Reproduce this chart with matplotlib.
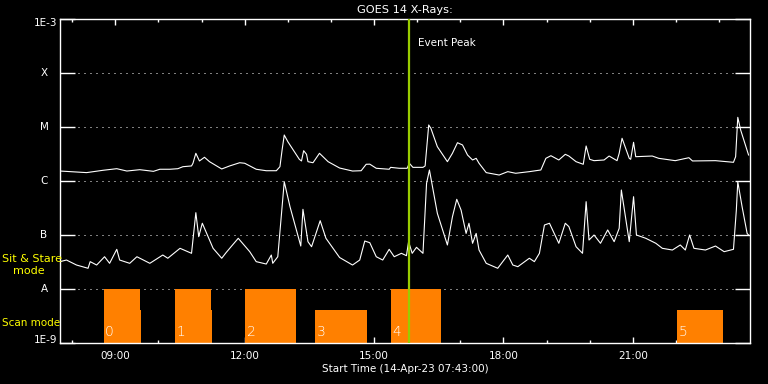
import matplotlib

matplotlib.use("Agg")
import matplotlib.dates as mdates
import matplotlib.pyplot as plt
import numpy as np
import pandas as pd
from matplotlib.ticker import NullLocator

# ---------------- DATA ----------------
DAY = "2023-04-14"
START = "07:43"
END = "23:43"
EVENT_PEAK = "15:48"

# 1-8 A channel, flux in 1e-6 W/m^2
LONG_TIMES = [
    "07:43", "08:20", "08:43", "09:02", "09:16", "09:34", "09:53", "10:02", "10:16", "10:27",
    "10:34", "10:46", "10:48", "10:52", "10:57", "11:04", "11:11", "11:28", "11:39", "11:53",
    "12:00", "12:16", "12:30", "12:44", "12:49", "12:52", "12:55", "13:00", "13:16", "13:19",
    "13:22", "13:26", "13:28", "13:35", "13:44", "13:56", "14:12", "14:30", "14:42", "14:49",
    "14:54", "15:03", "15:21", "15:23", "15:35", "15:46", "15:49", "15:54", "16:08", "16:11",
    "16:16", "16:19", "16:28", "16:42", "16:49", "16:56", "17:03", "17:10", "17:17", "17:22",
    "17:26", "17:36", "17:54", "18:06", "18:17", "18:36", "18:52", "18:59", "19:06", "19:17",
    "19:26", "19:31", "19:41", "19:51", "19:55", "20:00", "20:06", "20:20", "20:27", "20:38",
    "20:41", "20:45", "20:55", "20:57", "21:01", "21:04", "21:27", "21:36", "21:59", "22:18",
    "22:23", "22:55", "23:20", "23:23", "23:26", "23:30", "23:41",
]
LONG_FLUX = [
    1.53, 1.43, 1.58, 1.69, 1.53, 1.62, 1.51, 1.65, 1.65, 1.69,
    1.84, 1.90, 2.13, 3.26, 2.35, 2.75, 2.28, 1.67, 1.90, 2.18,
    2.13, 1.65, 1.55, 1.55, 1.84, 3.75, 7.11, 5.34, 2.52, 2.35,
    3.64, 3.12, 2.28, 2.18, 3.26, 2.28, 1.74, 1.53, 1.55, 2.04,
    2.05, 1.72, 1.65, 1.79, 1.72, 1.72, 2.13, 1.79, 1.79, 1.90,
    10.9, 9.46, 4.32, 2.28, 3.26, 5.12, 4.65, 3.03, 2.45, 2.63,
    2.13, 1.43, 1.29, 1.49, 1.39, 1.49, 1.60, 2.63, 2.94, 2.45,
    3.12, 2.90, 2.28, 2.04, 4.45, 2.52, 2.38, 2.45, 2.90, 2.38,
    3.26, 6.18, 2.63, 2.52, 5.21, 2.82, 2.90, 2.63, 2.38, 2.70,
    2.35, 2.38, 2.22, 2.82, 15.1, 8.80, 3.03,
]

# 0.5-4 A channel, flux in 1e-8 W/m^2
SHORT_TIMES = [
    "07:43", "07:52", "08:06", "08:22", "08:25", "08:34", "08:45", "08:52", "09:02", "09:06",
    "09:20", "09:30", "09:48", "10:06", "10:13", "10:30", "10:46", "10:52", "10:56", "11:01",
    "11:16", "11:28", "11:34", "11:41", "11:51", "12:07", "12:16", "12:30", "12:37", "12:39",
    "12:46", "12:55", "13:03", "13:18", "13:21", "13:28", "13:33", "13:45", "13:53", "14:12",
    "14:30", "14:40", "14:47", "14:54", "15:03", "15:12", "15:21", "15:28", "15:38", "15:45",
    "15:48", "15:53", "15:59", "16:08", "16:13", "16:17", "16:28", "16:42", "16:49", "16:55",
    "17:01", "17:08", "17:12", "17:17", "17:22", "17:26", "17:36", "17:52", "18:06", "18:13",
    "18:20", "18:36", "18:43", "18:50", "18:57", "19:04", "19:17", "19:26", "19:31", "19:41",
    "19:50", "19:55", "19:59", "20:06", "20:15", "20:25", "20:34", "20:41", "20:44", "20:55",
    "21:01", "21:05", "21:18", "21:32", "21:41", "21:55", "22:06", "22:13", "22:19", "22:25",
    "22:41", "22:55", "23:07", "23:20", "23:24", "23:26", "23:32", "23:39", "23:41",
]
SHORT_FLUX = [
    3.21, 3.44, 2.78, 2.42, 3.21, 2.78, 3.96, 2.99, 5.43, 3.44,
    2.99, 3.96, 2.99, 4.26, 3.71, 5.67, 4.58, 25.9, 9.31, 16.5,
    5.67, 3.71, 4.70, 6.07, 8.69, 4.91, 3.21, 2.90, 4.26, 2.99,
    3.96, 97.0, 33.4, 6.25, 29.9, 7.52, 6.07, 18.4, 8.69, 3.83,
    2.78, 3.44, 7.74, 7.20, 3.96, 3.44, 5.43, 3.96, 4.58, 4.14,
    7.52, 4.58, 5.92, 4.58, 90.6, 160.0, 25.2, 6.53, 21.8, 45.8,
    29.0, 10.7, 16.5, 7.02, 10.7, 5.27, 2.99, 2.42, 4.26, 2.78,
    2.59, 3.71, 3.21, 4.58, 15.3, 16.5, 7.02, 16.5, 14.3, 6.07,
    4.58, 41.4, 8.07, 10.0, 7.02, 12.4, 7.52, 13.3, 68.1, 7.52,
    51.2, 10.0, 8.69, 7.02, 5.67, 5.27, 6.53, 5.27, 10.0, 5.67,
    5.27, 6.25, 4.91, 5.43, 29.0, 97.0, 33.4, 10.7, 10.0,
]

CLASS_LABELS = ["1E-9", "A", "B", "C", "M", "X", "1E-3"]
CLASS_LEVELS = [1e-9, 1e-8, 1e-7, 1e-6, 1e-5, 1e-4, 1e-3]

# observation blocks (label "" = short scan tail of previous block)
OBS_LABEL = ["0", "", "1", "", "2", "3", "4", "5"]
OBS_START = ["08:44", "09:34", "10:23", "11:13", "12:01", "13:38", "15:23", "22:02"]
OBS_END = ["09:34", "09:35", "11:13", "11:14", "13:11", "14:50", "16:33", "23:05"]
OBS_MODE = ["stare", "scan", "stare", "scan", "stare", "scan", "stare", "scan"]
MODE_TOP = {"stare": 1e-8, "scan": 4e-9}

# ---------------- STYLE ----------------
WHITE = "white"
YELLOW = "#ffff00"
ORANGE = "#ff8000"
GREEN = "#99cc00"
FS = 7.5

plt.rcParams["font.family"] = ["DejaVu Sans"]


def to_time(values):
    return pd.to_datetime([f"{DAY} {v}" for v in values])


long_t = to_time(LONG_TIMES)
short_t = to_time(SHORT_TIMES)
long_f = np.array(LONG_FLUX) * 1e-6
short_f = np.array(SHORT_FLUX) * 1e-8

fig = plt.figure(figsize=(7.68, 3.84), dpi=100, facecolor="black")
ax = fig.add_axes([60 / 768, 41 / 384, 690 / 768, 324 / 384])
ax.set_facecolor("black")
ax.set_yscale("log")
ax.set_ylim(1e-9, 1e-3)
ax.set_xlim(to_time([START])[0], to_time([END])[0])

# dotted class lines
for lev in CLASS_LEVELS[1:-1]:
    ax.axhline(lev, color=WHITE, lw=0.72, ls=(0, (1, 5)), zorder=1)

# observation blocks
for lab, s, e, mode in zip(OBS_LABEL, OBS_START, OBS_END, OBS_MODE):
    ts, te = to_time([s, e])
    ax.fill_between([ts, te], 1e-9, MODE_TOP[mode], color=ORANGE, lw=0, zorder=2)
    if lab:
        ax.annotate(lab, xy=(ts, 1.6e-9), xytext=(1, 0), textcoords="offset points",
                    color=WHITE, fontsize=10, fontweight="light", ha="left", va="center",
                    zorder=3)

ax.plot(long_t, long_f, color=WHITE, lw=0.8, zorder=4)
ax.plot(short_t, short_f, color=WHITE, lw=0.8, zorder=4)

peak = to_time([EVENT_PEAK])[0]
ax.axvline(peak, color=GREEN, lw=1.6, zorder=5)
ax.annotate("Event Peak", xy=(peak, 3.6e-4), xytext=(7, 0), textcoords="offset points",
            color=WHITE, fontsize=FS, ha="left", va="center")

# y axis labels drawn as text
ax.set_yticks(CLASS_LEVELS)
ax.set_yticklabels([])
ax.yaxis.set_minor_locator(NullLocator())
ax.tick_params(axis="y", which="major", direction="in", length=10.8, width=1,
               color=WHITE, left=True, right=True)
ytr = ax.get_yaxis_transform()
for lab, lev in zip(CLASS_LABELS, CLASS_LEVELS):
    if lab.startswith("1E"):
        dy = -3 if lab == "1E-3" else 2
        ax.annotate(lab, xy=(-0.004, lev), xycoords=ytr, xytext=(0, dy),
                    textcoords="offset points", color=WHITE, fontsize=FS,
                    ha="right", va="center", annotation_clip=False)
    else:
        ax.text(-0.0232, lev, lab, transform=ytr, color=WHITE, fontsize=FS,
                ha="center", va="center")

ax.text(-0.084, 3.6e-8, "Sit & Stare", transform=ytr, color=YELLOW, fontsize=8,
        ha="left", va="center", zorder=6, clip_on=False)
ax.text(-0.068, 2.15e-8, "mode", transform=ytr, color=YELLOW, fontsize=8,
        ha="left", va="center", zorder=6, clip_on=False)
ax.text(-0.084, 2.34e-9, "Scan mode", transform=ytr, color=YELLOW, fontsize=FS,
        ha="left", va="center", zorder=6, clip_on=False)

# x axis
ax.xaxis.set_major_locator(mdates.HourLocator(byhour=[9, 12, 15, 18, 21]))
ax.xaxis.set_minor_locator(mdates.HourLocator())
ax.xaxis.set_major_formatter(mdates.DateFormatter("%H:%M"))
ax.tick_params(axis="x", which="major", direction="in", length=4.3, width=1,
               color=WHITE, labelcolor=WHITE, labelsize=FS, top=True, bottom=True, pad=6)
ax.tick_params(axis="x", which="minor", direction="in", length=2.2, width=1,
               color=WHITE, top=True, bottom=True)
ax.set_xlabel("Start Time (14-Apr-23 07:43:00)", color=WHITE, fontsize=FS, labelpad=2)
ax.set_title("GOES 14 X-Rays:", color=WHITE, fontsize=8.2, pad=4)

for sp in ax.spines.values():
    sp.set_color(WHITE)
    sp.set_linewidth(1)

fig.savefig("out.png", dpi=100, facecolor="black")
